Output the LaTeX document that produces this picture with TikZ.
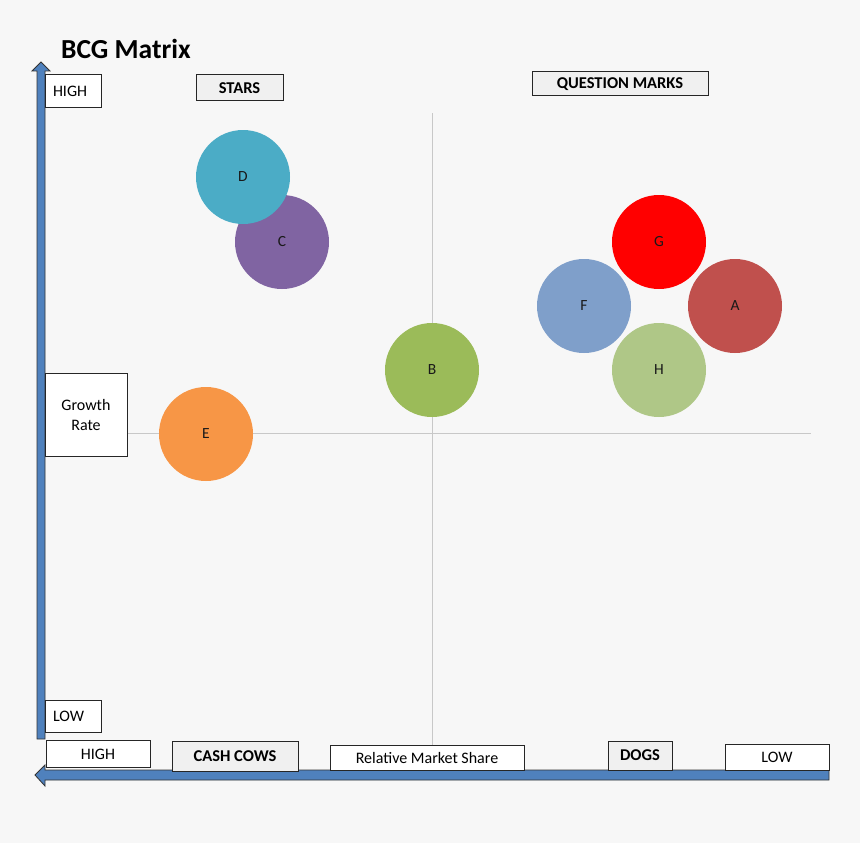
\documentclass[tikz,border=0pt]{standalone}
\usepackage{fontspec}
\setmainfont{Carlito}
\usetikzlibrary{positioning, calc}

\definecolor{bgGray}{HTML}{F7F7F7}
\definecolor{axisBlue}{HTML}{4F81BD}
\definecolor{gridGray}{HTML}{C8C8C8}
\definecolor{tagGray}{HTML}{F0F0F0}
\definecolor{colA}{HTML}{C0504D}
\definecolor{colB}{HTML}{9BBB59}
\definecolor{colC}{HTML}{8064A2}
\definecolor{colD}{HTML}{4BACC6}
\definecolor{colE}{HTML}{F79646}
\definecolor{colF}{HTML}{7F9FCA}
\definecolor{colG}{HTML}{FF0000}
\definecolor{colH}{HTML}{AFC787}

\begin{document}
\begin{tikzpicture}[x=1pt, y=-1pt,
    labelbox/.style={draw=black!85, line width=1pt, fill=white, inner sep=0pt,
        font=\fontsize{16}{19}\selectfont},
    quadbox/.style={labelbox, fill=tagGray, font=\fontsize{16.5}{19}\selectfont\bfseries},
    bubble/.style={circle, minimum size=94pt, inner sep=0pt, draw=none,
        font=\fontsize{15.5}{17}\selectfont, text=black!90}]

    % Hintergrund und Rahmen
    \fill[bgGray] (0,0) rectangle (860,843);
    \useasboundingbox (0,0) rectangle (860,843);

    % Parameter der Achsen
    \def\xMid{432}     % vertikale Trennlinie
    \def\yMid{433}     % horizontale Trennlinie

    % Titel
    \node[anchor=west, inner sep=0pt, font=\fontsize{27.5}{30}\selectfont\bfseries] (title) at (61,49) {BCG Matrix};

    % --- Quadranten-Trennlinien ---
    \draw[gridGray, line width=1pt] (\xMid,113) -- (\xMid,745);
    \draw[gridGray, line width=1pt] (127,\yMid) -- (811,\yMid);

    % --- Achsen (Blockpfeile) ---
    % vertikale Achse: Wachstum
    \filldraw[fill=axisBlue, draw=black!80, line width=0.8pt, line join=miter]
        (37,739) -- (37,71) -- (32,71) -- (41,62) -- (50,71) -- (45,71) -- (45,739) -- cycle;
    % horizontale Achse: Marktanteil
    \filldraw[fill=axisBlue, draw=black!80, line width=0.8pt, line join=miter]
        (829,770) -- (45,770) -- (45,765) -- (35,775) -- (45,786) -- (45,780) -- (829,780) -- cycle;

    % --- Beschriftungen der Achsen ---
    \node[labelbox, minimum width=56pt, minimum height=33pt, text width=48pt, align=left]
        (highY) at (73,91) {\hspace*{4pt}HIGH};
    \node[labelbox, minimum width=56pt, minimum height=32pt, text width=48pt, align=left]
        (lowY) at (73,716) {\hspace*{4pt}LOW};
    \node[labelbox, minimum width=82pt, minimum height=83pt, align=center]
        (growth) at (86,415) {Growth\\[1pt]Rate};
    \node[labelbox, minimum width=104pt, minimum height=27pt] (highX) at (98,754) {HIGH};
    \node[labelbox, minimum width=194pt, minimum height=25pt] (share) at (427,758) {Relative Market Share};
    \node[labelbox, minimum width=104pt, minimum height=26pt] (lowX) at (777,757) {LOW};

    % --- Quadranten ---
    \node[quadbox, minimum width=87pt, minimum height=26pt] (stars) at (239.5,88) {STARS};
    \node[quadbox, minimum width=176pt, minimum height=24pt] (question) at (620,84) {QUESTION MARKS};
    \node[quadbox, minimum width=126pt, minimum height=30pt] (cows) at (235,756) {CASH COWS};
    \node[quadbox, minimum width=64pt, minimum height=29pt] (dogs) at (640,755.5) {DOGS};

    % --- Geschaeftseinheiten (Kreise) ---
    \node[bubble, fill=colC] (C) at (282,242) {C};
    \node[bubble, fill=colD] (D) at (243,177) {D};
    \node[bubble, fill=colB] (B) at (432,370) {B};
    \node[bubble, fill=colE] (E) at (206,434) {E};
    \node[bubble, fill=colG] (G) at (659,242) {G};
    \node[bubble, fill=colF] (F) at (584,306) {F};
    \node[bubble, fill=colA] (A) at (735,306) {A};
    \node[bubble, fill=colH] (H) at (659,370) {H};

\end{tikzpicture}
\end{document}
